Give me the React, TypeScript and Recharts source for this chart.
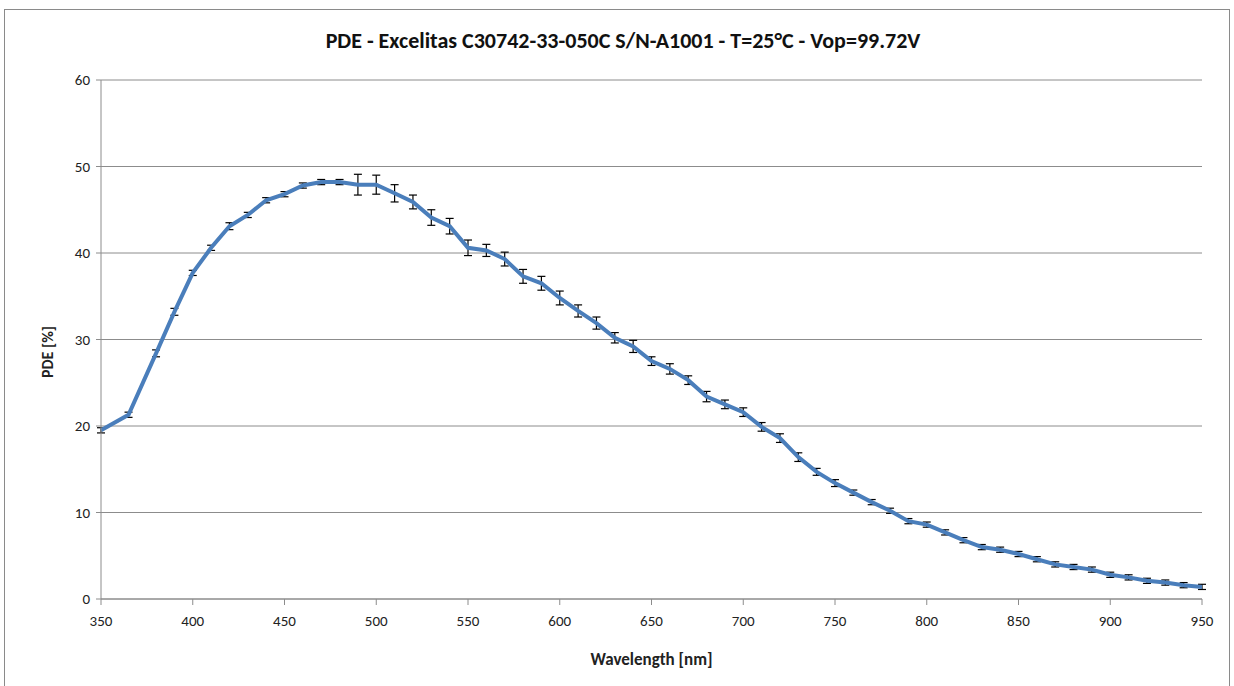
import React from 'react';
import { LineChart, Line, XAxis, YAxis, CartesianGrid, ErrorBar, Label } from 'recharts';

const wavelengths = [
  350, 365, 380, 390, 400, 410, 420, 430, 440, 450, 460, 470, 480, 490, 500, 510, 520, 530, 540, 550,
  560, 570, 580, 590, 600, 610, 620, 630, 640, 650, 660, 670, 680, 690, 700, 710, 720, 730, 740, 750,
  760, 770, 780, 790, 800, 810, 820, 830, 840, 850, 860, 870, 880, 890, 900, 910, 920, 930, 940, 950,
];

const pdeValues = [
  19.5, 21.3, 28.4, 33.2, 37.7, 40.6, 43.1, 44.4, 46.1, 46.8, 47.8, 48.2, 48.2, 47.9, 47.9, 46.9, 45.9, 44.1, 43.1, 40.6,
  40.3, 39.3, 37.3, 36.5, 34.8, 33.3, 31.9, 30.2, 29.2, 27.5, 26.6, 25.3, 23.4, 22.5, 21.6, 19.9, 18.6, 16.4, 14.7, 13.4,
  12.3, 11.2, 10.2, 9.0, 8.6, 7.7, 6.8, 6.0, 5.7, 5.2, 4.6, 4.0, 3.7, 3.4, 2.8, 2.5, 2.1, 1.9, 1.6, 1.4,
];

const pdeErrors = [
  0.3, 0.3, 0.4, 0.4, 0.3, 0.3, 0.4, 0.3, 0.3, 0.3, 0.3, 0.3, 0.3, 1.2, 1.1, 1.0, 0.8, 0.9, 0.9, 0.9,
  0.7, 0.8, 0.8, 0.8, 0.8, 0.7, 0.7, 0.6, 0.7, 0.5, 0.6, 0.5, 0.6, 0.5, 0.5, 0.5, 0.5, 0.5, 0.4, 0.4,
  0.3, 0.3, 0.3, 0.3, 0.3, 0.3, 0.3, 0.3, 0.3, 0.3, 0.3, 0.3, 0.3, 0.3, 0.3, 0.3, 0.3, 0.3, 0.3, 0.3,
];

const xTicks = [350, 400, 450, 500, 550, 600, 650, 700, 750, 800, 850, 900, 950];
const yTicks = [0, 10, 20, 30, 40, 50, 60];

const title = 'PDE - Excelitas C30742-33-050C S/N-A1001 - T=25°C - Vop=99.72V';

const font = "Carlito, Lato, 'Open Sans', sans-serif";

export default function App() {
  const data = wavelengths.map((nm, i) => ({ nm, pde: pdeValues[i], err: pdeErrors[i] }));
  const tick = { fontSize: 15, fill: '#222', fontFamily: font };

  return (
    <div style={{ position: 'absolute', left: 0, top: 0, width: 1234, height: 686, background: '#fff', fontFamily: font }}>
      <div
        style={{
          position: 'absolute', left: 4, top: 9, width: 1226, height: 690,
          border: '1px solid #8a8a8a', boxSizing: 'border-box',
        }}
      />
      <div
        style={{
          position: 'absolute', left: 0, top: 27, width: 1246, textAlign: 'center',
          fontSize: 22, fontWeight: 'bold', color: '#111',
        }}
      >
        {title}
      </div>
      <div
        style={{
          position: 'absolute', left: 47, top: 352, transform: 'translate(-50%, -50%) rotate(-90deg)',
          fontSize: 16, fontWeight: 'bold', color: '#222', whiteSpace: 'nowrap',
        }}
      >
        PDE [%]
      </div>
      <LineChart
        width={1234}
        height={686}
        data={data}
        margin={{ top: 80, right: 32, bottom: 27, left: 41 }}
        style={{ position: 'absolute', left: 0, top: 0 }}
      >
        <CartesianGrid vertical={false} stroke="#8c8c8c" />
        <XAxis
          dataKey="nm"
          type="number"
          domain={[350, 950]}
          ticks={xTicks}
          tick={tick}
          tickSize={6}
          tickMargin={10}
          stroke="#8c8c8c"
          height={60}
        >
          <Label value="Wavelength [nm]" position="insideBottom" offset={-6} style={{ fontSize: 17, fontWeight: 'bold', fill: '#222', fontFamily: font }} />
        </XAxis>
        <YAxis
          domain={[0, 60]}
          ticks={yTicks}
          tick={tick}
          tickSize={5}
          tickMargin={6}
          stroke="#8c8c8c"
          width={60}
        />
        <Line
          type="linear"
          dataKey="pde"
          stroke="#4a7ebb"
          strokeWidth={4}
          dot={false}
          isAnimationActive={false}
        >
          <ErrorBar dataKey="err" width={4} stroke="#000" strokeWidth={1.2} direction="y" />
        </Line>
      </LineChart>
    </div>
  );
}
